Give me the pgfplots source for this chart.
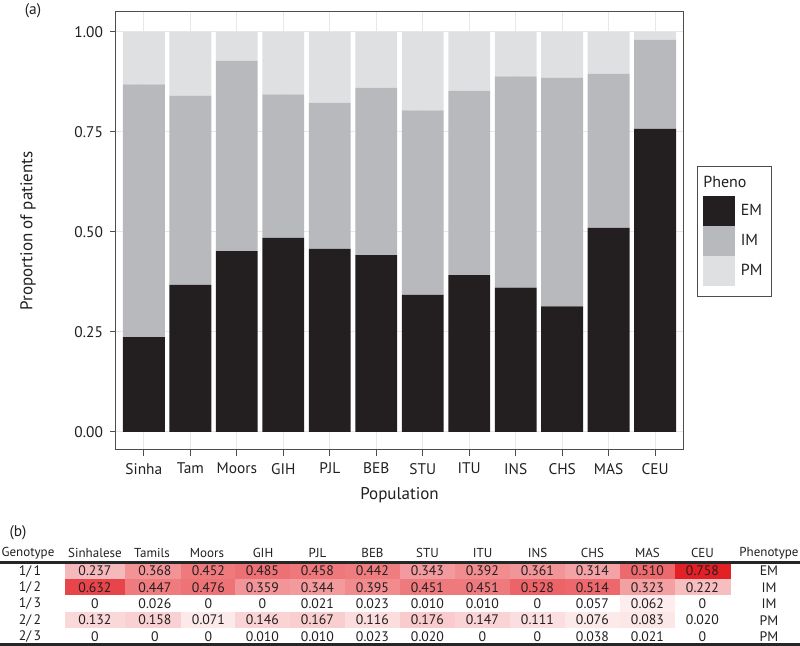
\documentclass[border=0pt]{standalone}
\usepackage{fontspec}
\setmainfont{PT Sans}
\usepackage{pgfplots}
\usepackage{pgfplotstable}
\pgfplotsset{compat=1.18}
\definecolor{cEM}{HTML}{231F20}
\definecolor{cIM}{HTML}{B8B9BC}
\definecolor{cPM}{HTML}{DFE0E2}
\definecolor{txt}{HTML}{231F20}
\definecolor{gridc}{HTML}{E8E8E8}
\definecolor{framec}{HTML}{4D4D4D}

\pgfplotstableread{
x EM IM PM
1 0.237 0.632 0.131
2 0.368 0.473 0.159
3 0.452 0.476 0.072
4 0.485 0.359 0.156
5 0.458 0.365 0.177
6 0.442 0.418 0.140
7 0.343 0.461 0.196
8 0.392 0.461 0.147
9 0.361 0.528 0.111
10 0.314 0.571 0.115
11 0.510 0.385 0.105
12 0.758 0.222 0.020
}\pheno

% heat table: x = cell centre (px), y = row, shade = colour value, lbl = printed value
\pgfplotstableread{
x y shade lbl
95 1 0.237 0.237
155 1 0.368 0.368
208.5 1 0.452 0.452
262.5 1 0.485 0.485
317.5 1 0.458 0.458
372.5 1 0.442 0.442
427.5 1 0.343 0.343
482.5 1 0.392 0.392
537.5 1 0.361 0.361
592.5 1 0.314 0.314
647.5 1 0.510 0.510
702.5 1 0.758 0.758
95 2 0.632 0.632
155 2 0.447 0.447
208.5 2 0.476 0.476
262.5 2 0.359 0.359
317.5 2 0.344 0.344
372.5 2 0.395 0.395
427.5 2 0.451 0.451
482.5 2 0.451 0.451
537.5 2 0.528 0.528
592.5 2 0.514 0.514
647.5 2 0.323 0.323
702.5 2 0.222 0.222
95 3 0 0
155 3 0 0.026
208.5 3 0 0
262.5 3 0 0
317.5 3 0 0.021
372.5 3 0 0.023
427.5 3 0 0.010
482.5 3 0 0.010
537.5 3 0 0
592.5 3 0 0.057
647.5 3 0.062 0.062
702.5 3 0 0
95 4 0.132 0.132
155 4 0.158 0.158
208.5 4 0.071 0.071
262.5 4 0.146 0.146
317.5 4 0.167 0.167
372.5 4 0.116 0.116
427.5 4 0.176 0.176
482.5 4 0.147 0.147
537.5 4 0.111 0.111
592.5 4 0.076 0.076
647.5 4 0.083 0.083
702.5 4 0 0.020
95 5 0 0
155 5 0 0
208.5 5 0 0
262.5 5 0 0.010
317.5 5 0 0.010
372.5 5 0 0.023
427.5 5 0 0.020
482.5 5 0 0
537.5 5 0 0
592.5 5 0 0.038
647.5 5 0 0.021
702.5 5 0 0
}\heat

\begin{document}
\begin{tikzpicture}
\path[use as bounding box] (0pt,0pt) rectangle (400pt,-323pt);

\begin{axis}[
  at={(58pt,-225pt)}, anchor=south west,
  scale only axis, width=283.5pt, height=219pt,
  xmin=0.4, xmax=12.6, ymin=-0.045, ymax=1.05,
  ybar stacked, bar width=0.9,
  xtick={1,...,12},
  xticklabels={Sinha,Tam,Moors,GIH,PJL,BEB,STU,ITU,INS,CHS,MAS,CEU},
  ytick={0,0.25,0.5,0.75,1},
  yticklabels={0.00,0.25,0.50,0.75,1.00},
  grid=major, major grid style={gridc, line width=0.5pt},
  axis line style={framec, line width=0.5pt},
  tick align=outside, tick pos=left, major tick length=3pt,
  tick style={framec, line width=0.5pt},
  tick label style={font=\fontsize{7.7}{9}\selectfont, text=txt},
  label style={font=\fontsize{8.5}{10}\selectfont, text=txt},
  xlabel={Population}, ylabel={Proportion of patients},
  xlabel style={at={(axis description cs:0.5,-0.103)}, anchor=center},
  ylabel style={at={(axis description cs:-0.155,0.5)}, anchor=center},
  legend style={at={(axis description cs:1.0353,0.5799)}, anchor=north west,
    draw=none, fill=none, inner sep=0pt, row sep=0pt,
    nodes={inner sep=0.5pt, text=txt},
    /tikz/every odd column/.append style={column sep=2.2pt},
    font=\fontsize{8}{9.6}\selectfont},
  legend cell align=left,
  legend image code/.code={\fill[#1,draw=none] (0pt,-7.5pt) rectangle (16pt,7.5pt);},
]
\addplot[fill=cEM, draw=none] table[x=x, y=EM] {\pheno};
\addplot[fill=cIM, draw=none] table[x=x, y=IM] {\pheno};
\addplot[fill=cPM, draw=none] table[x=x, y=PM] {\pheno};
\legend{EM,IM,PM}
\end{axis}

% legend frame and title
\draw[framec, line width=0.5pt] (348.5pt,-83.5pt) rectangle (385.5pt,-148.5pt);
\node[anchor=base west, inner sep=0pt, text=txt, font=\fontsize{8}{9.6}\selectfont] at (351.5pt,-94pt) {Pheno};

\node[anchor=center, inner sep=0pt, text=txt, font=\fontsize{7.7}{9}\selectfont] at (16.5pt,-5.5pt) {(a)};
\node[anchor=center, inner sep=0pt, text=txt, font=\fontsize{7.7}{9}\selectfont] at (9pt,-266.5pt) {(b)};

% heat-map table
\begin{axis}[
  at={(0pt,-281.5pt)}, anchor=north west,
  scale only axis, width=400pt, height=40.8pt,
  xmin=0, xmax=800, ymin=0.5, ymax=5.5, y dir=reverse,
  hide axis, clip=false, enlargelimits=false,
  colormap={wr}{rgb255=(255,255,255) rgb255=(227,30,36)},
  point meta min=0, point meta max=0.77,
]
\addplot[matrix plot*, mesh/cols=12, point meta=explicit]
  table[x=x, y=y, meta=shade] {\heat};
\addplot[only marks, mark=*, mark size=0pt, mark options={draw=none, fill=none},
  point meta=explicit symbolic,
  nodes near coords={\pgfplotspointmeta}, nodes near coords align=center,
  every node near coord/.append style={anchor=center, inner sep=0pt, text=txt,
     font=\fontsize{6.9}{8}\selectfont}]
  table[x=x, y=y, meta=lbl] {\heat};
% header and side columns
\begin{scope}[every node/.style={anchor=center, inner sep=0pt, text=txt, font=\fontsize{6.5}{7.6}\selectfont}]
\node at (axis cs:28,-0.1) {Genotype};
\node at (axis cs:95,-0.1) {Sinhalese};
\node at (axis cs:152,-0.1) {Tamils};
\node at (axis cs:207,-0.1) {Moors};
\node at (axis cs:263,-0.1) {GIH};
\node at (axis cs:317.5,-0.1) {PJL};
\node at (axis cs:372.5,-0.1) {BEB};
\node at (axis cs:427.5,-0.1) {STU};
\node at (axis cs:482.5,-0.1) {ITU};
\node at (axis cs:537.5,-0.1) {INS};
\node at (axis cs:592.5,-0.1) {CHS};
\node at (axis cs:647.5,-0.1) {MAS};
\node at (axis cs:702.5,-0.1) {CEU};
\node at (axis cs:769,-0.1) {Phenotype};
\end{scope}
\begin{scope}[every node/.style={anchor=center, inner sep=0pt, text=txt, font=\fontsize{6.9}{8}\selectfont}]
\node at (axis cs:30,1) {1/\,1};
\node at (axis cs:30,2) {1/\,2};
\node at (axis cs:30,3) {1/\,3};
\node at (axis cs:30,4) {2/\,2};
\node at (axis cs:30,5) {2/\,3};
\node at (axis cs:769,1) {EM};
\node at (axis cs:769,2) {IM};
\node at (axis cs:769,3) {IM};
\node at (axis cs:769,4) {PM};
\node at (axis cs:769,5) {PM};
\end{scope}
\end{axis}

% table rules
\draw[black!85, line width=1.2pt] (0pt,-281.2pt) -- (400pt,-281.2pt);
\draw[black!85, line width=1.2pt] (0pt,-322.2pt) -- (400pt,-322.2pt);
\end{tikzpicture}
\end{document}
